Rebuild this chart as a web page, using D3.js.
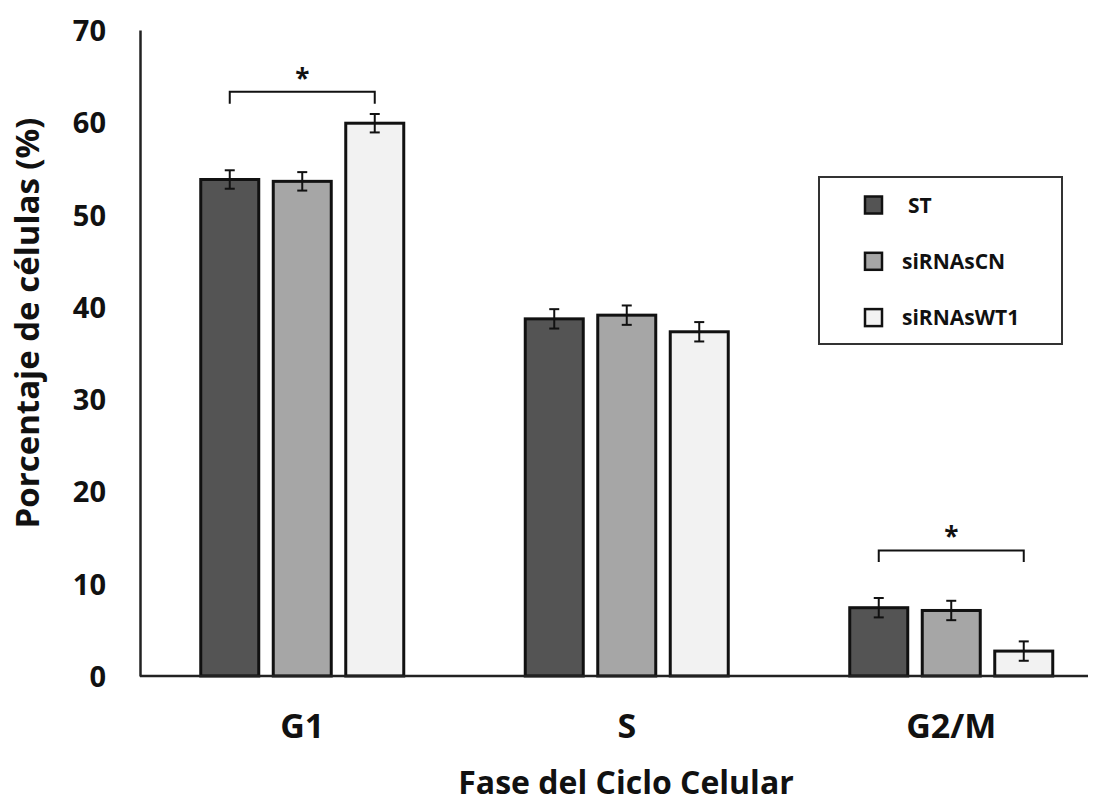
<!DOCTYPE html>
<html>
<head>
<meta charset="utf-8">
<script src="https://cdn.jsdelivr.net/npm/d3@7"></script>
<style>
  body { margin: 0; background: #fff; }
  text { font-family: "Open Sans", sans-serif; font-weight: bold; fill: #111; }
</style>
</head>
<body>
<svg id="chart" width="1101" height="802"></svg>
<script>
// data
const phases = ["G1", "S", "G2/M"];
const series = ["ST", "siRNAsCN", "siRNAsWT1"];
const valST = [53.8, 38.7, 7.4];
const valCN = [53.6, 39.1, 7.1];
const valWT1 = [59.9, 37.3, 2.7];
const errST = [1.0, 1.05, 1.05];
const errCN = [1.0, 1.05, 1.05];
const errWT1 = [1.0, 1.05, 1.05];
const yTicks = [0, 10, 20, 30, 40, 50, 60, 70];
// significance brackets (ST vs siRNAsWT1): phase, top value, leg end value
const sigPhase = ["G1", "G2/M"];
const sigTop = [63.3, 13.6];
const sigLeg = [62.0, 12.35];

const colors = {"ST": "#545454", "siRNAsCN": "#a6a6a6", "siRNAsWT1": "#f2f2f2"};

const values = {"ST": valST, "siRNAsCN": valCN, "siRNAsWT1": valWT1};
const errors = {"ST": errST, "siRNAsCN": errCN, "siRNAsWT1": errWT1};

const rows = [];
phases.forEach((p, i) => {
  series.forEach(s => rows.push({phase: p, series: s, value: values[s][i], err: errors[s][i]}));
});

const svg = d3.select("#chart");
const plotLeft = 140, plotTop = 30, plotBottom = 676;

const x0 = d3.scaleBand().domain(phases).range([plotLeft, plotLeft + 3 * 324.5]);
const x1 = d3.scaleBand().domain(series).range([-101.5, 101.5]).paddingInner(0.2);
const y = d3.scaleLinear().domain([0, 70]).range([plotBottom, plotTop]);

const cx = d => x0(d.phase) + x0.bandwidth() / 2 + x1(d.series) + x1.bandwidth() / 2;

// y axis
const yAxis = svg.append("g")
  .attr("transform", `translate(${plotLeft},0)`)
  .call(d3.axisLeft(y).tickValues(yTicks).tickSize(0).tickPadding(34));
yAxis.select(".domain").attr("stroke", "#222").attr("stroke-width", 2.5);
yAxis.selectAll("text")
  .attr("dy", "0.36em")
  .style("font-size", "29px")
  .style("font-family", "'Open Sans', sans-serif")
  .style("font-weight", "bold")
  .attr("fill", "#111");

// bars
svg.append("g")
  .selectAll("rect")
  .data(rows)
  .join("rect")
  .attr("x", d => cx(d) - x1.bandwidth() / 2)
  .attr("y", d => y(d.value))
  .attr("width", x1.bandwidth())
  .attr("height", d => y(0) - y(d.value))
  .attr("fill", d => colors[d.series])
  .attr("stroke", "#111")
  .attr("stroke-width", 3);

// x axis
const xAxis = svg.append("g")
  .attr("transform", `translate(0,${plotBottom})`)
  .call(d3.axisBottom(x0).tickSize(0).tickPadding(38));
xAxis.select(".domain").remove();
xAxis.selectAll("text")
  .style("font-size", "34px")
  .style("font-family", "'Open Sans', sans-serif")
  .style("font-weight", "bold")
  .attr("fill", "#111");
xAxis.append("line")
  .attr("x1", plotLeft).attr("x2", 1088)
  .attr("y1", 0).attr("y2", 0)
  .attr("stroke", "#222").attr("stroke-width", 2.5);

// error bars
const eb = svg.append("g").attr("stroke", "#111").attr("stroke-width", 2);
eb.selectAll("line.v").data(rows).join("line").attr("class", "v")
  .attr("x1", cx).attr("x2", cx)
  .attr("y1", d => y(d.value + d.err)).attr("y2", d => y(d.value - d.err));
eb.selectAll("line.t").data(rows).join("line").attr("class", "t")
  .attr("x1", d => cx(d) - 5).attr("x2", d => cx(d) + 5)
  .attr("y1", d => y(d.value + d.err)).attr("y2", d => y(d.value + d.err));
eb.selectAll("line.b").data(rows).join("line").attr("class", "b")
  .attr("x1", d => cx(d) - 5).attr("x2", d => cx(d) + 5)
  .attr("y1", d => y(d.value - d.err)).attr("y2", d => y(d.value - d.err));

// significance brackets
sigPhase.forEach((p, i) => {
  const xa = cx({phase: p, series: "ST"});
  const xb = cx({phase: p, series: "siRNAsWT1"});
  svg.append("path")
    .attr("d", `M${xa},${y(sigLeg[i])}V${y(sigTop[i])}H${xb}V${y(sigLeg[i])}`)
    .attr("fill", "none")
    .attr("stroke", "#111")
    .attr("stroke-width", 2);
  svg.append("text")
    .attr("x", (xa + xb) / 2)
    .attr("y", y(sigTop[i]) - 4)
    .attr("text-anchor", "middle")
    .style("font-size", "26px")
    .text("*");
});

// legend
const legend = svg.append("g");
legend.append("rect")
  .attr("x", 819).attr("y", 177)
  .attr("width", 243).attr("height", 167)
  .attr("fill", "#fff").attr("stroke", "#333").attr("stroke-width", 2);
const item = legend.selectAll("g.item")
  .data(series)
  .join("g")
  .attr("class", "item")
  .attr("transform", (d, i) => `translate(865,${205 + i * 56.3})`);
item.append("rect")
  .attr("x", 0).attr("y", -8.5)
  .attr("width", 17).attr("height", 17)
  .attr("fill", d => colors[d])
  .attr("stroke", "#111").attr("stroke-width", 2.5);
item.append("text")
  .attr("x", (d, i) => i == 0 ? 43 : 37)
  .attr("dy", "0.36em")
  .style("font-size", "21px")
  .text(d => d);

// axis titles
svg.append("text")
  .attr("transform", "rotate(-90)")
  .attr("x", -323)
  .attr("y", 39)
  .attr("text-anchor", "middle")
  .style("font-size", "33px")
  .text("Porcentaje de células (%)");

svg.append("text")
  .attr("x", 626)
  .attr("y", 794)
  .attr("text-anchor", "middle")
  .style("font-size", "32px")
  .text("Fase del Ciclo Celular");
</script>
</body>
</html>
